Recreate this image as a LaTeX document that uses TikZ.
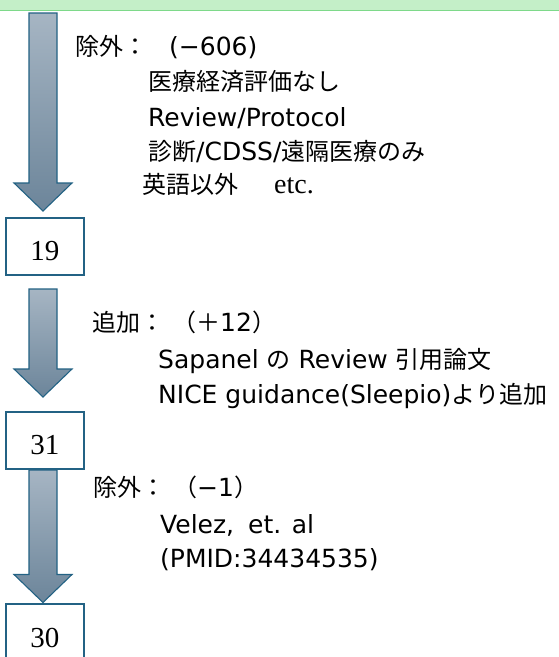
\documentclass[tikz,border=0pt]{standalone}
\usepackage{fontspec}
\setmainfont{DejaVu Sans}
\newfontfamily\cjk{Noto Sans CJK JP}
\newfontfamily\numfont{Liberation Serif}
\usetikzlibrary{calc}
\newcommand\J[1]{{\cjk\fontsize{24}{24}\selectfont #1}}
\definecolor{bordc}{RGB}{35,98,132}
\definecolor{arrtop}{RGB}{166,181,195}
\definecolor{arrbot}{RGB}{108,133,154}
\definecolor{bandlight}{RGB}{196,239,200}
\definecolor{bandline}{RGB}{126,217,138}
\tikzset{
  numbox/.style={draw=bordc, line width=2pt, fill=white, minimum width=78pt, minimum height=57pt, inner sep=0pt},
  numtxt/.style={font=\numfont\fontsize{29}{29}\selectfont, inner sep=0pt},
  txt/.style={anchor=base west, inner sep=0pt, font=\fontsize{25}{30}\selectfont},
  fat/.style={draw=bordc, line width=1.1pt, top color=arrtop, bottom color=arrbot, line join=miter}
}
\newcommand\fatarr[2]{\path[fat] let \p1=(#1), \p2=(#2) in (\x1-14pt,\y1) -- (\x1+14pt,\y1) -- (\x1+14pt,\y2+28pt) -- (\x1+29pt,\y2+28pt) -- (\x1,\y2) -- (\x1-29pt,\y2+28pt) -- (\x1-14pt,\y2+28pt) -- cycle;}
\begin{document}
\begin{tikzpicture}[x=1pt,y=-1pt]
\useasboundingbox (0,0) rectangle (559,657);
\fill[white] (0,0) rectangle (559,657);
% top band
\fill[bandlight] (0,0) rectangle (559,9.5);
\fill[bandline] (0,9.5) rectangle (559,11);
% boxes
\node[numbox] (b19) at (45,246.5) {};
\node[numtxt] (n19) at ($(b19.center)+(0,5)$) {19};
\node[numbox] (b31) at (45,440.5) {};
\node[numtxt] (n31) at ($(b31.center)+(0,5)$) {31};
\node[numbox] (b30) at (45,632.5) {};
\node[numtxt] (n30) at ($(b30.center)+(0,5)$) {30};
% arrows
\coordinate (a1s) at (43,13);
\coordinate (a1e) at (43,211);
\coordinate (a2s) at (43,289);
\coordinate (a2e) at (43,397);
\coordinate (a3s) at (43,470);
\coordinate (a3e) at (43,602.5);
\fatarr{a1s}{a1e}
\fatarr{a2s}{a2e}
\fatarr{a3s}{a3e}
% block 1
\node[txt] (t1a) at (75,55) {\J{除外：}\hspace{22pt}(−606)};
\node[txt] (t1b) at (148,90) {\J{医療経済評価なし}};
\node[txt] (t1c) at (148,126) {Review/Protocol};
\node[txt] (t1d) at (148,160) {\J{診断}/CDSS/\J{遠隔医療のみ}};
\node[txt] (t1e) at (142,193) {\J{英語以外}\hspace{36pt}{\numfont\fontsize{28}{28}\selectfont etc.}};
% block 2
\node[txt] (t2a) at (92,331) {\J{追加：}\hspace{8pt}\J{（＋}12\J{）}};
\node[txt] (t2b) at (158,368) {Sapanel \J{の} Review \J{引用論文}};
\node[txt] (t2c) at (158,403) {NICE guidance(Sleepio)\J{より追加}};
% block 3
\node[txt] (t3a) at (93,496) {\J{除外：}\hspace{8pt}\J{（}−1\J{）}};
\node[txt] (t3b) at (160,533) {Velez,\hspace{14pt}et. al};
\node[txt] (t3c) at (160,567) {(PMID:34434535)};
\end{tikzpicture}
\end{document}
